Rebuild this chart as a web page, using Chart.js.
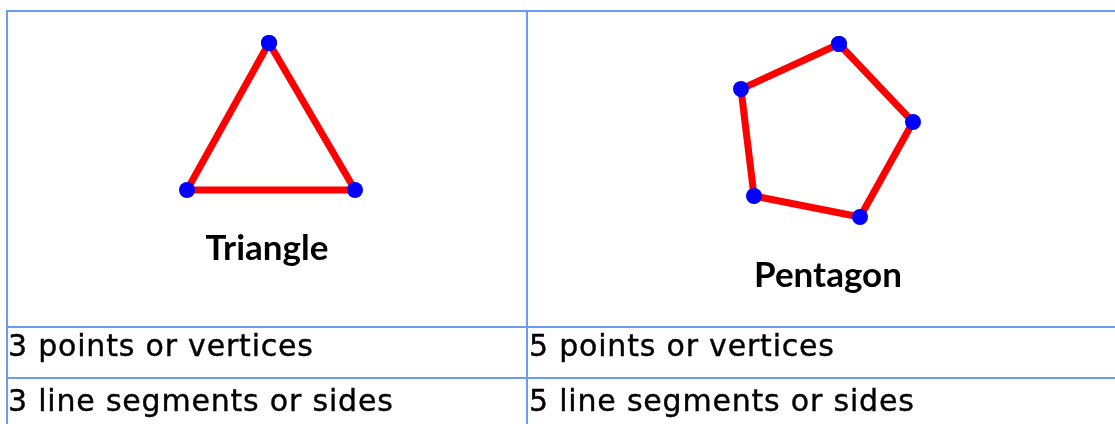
<!DOCTYPE html>
<html>
<head>
<meta charset="utf-8">
<script src="https://cdn.jsdelivr.net/npm/chart.js@4"></script>
<style>
    html, body { margin: 0; padding: 0; background: #fff; overflow: hidden; }
    #wrap { position: relative; width: 1115px; height: 424px; overflow: hidden; color: #000; }
    #shapes { position: absolute; left: 0; top: 0; }
    .hl { position: absolute; left: 6px; width: 1115px; height: 2px; background: #6d9bf1; }
    .vl { position: absolute; top: 10px; width: 2px; height: 420px; background: #6d9bf1; }
    .label { position: absolute; font-family: Lato, "Noto Sans", sans-serif; font-weight: bold; font-size: 35px; line-height: 1; transform: translateX(-50%); white-space: nowrap; }
    .cell { position: absolute; font-family: "DejaVu Sans", sans-serif; font-size: 30px; letter-spacing: 0.8px; line-height: 1; white-space: nowrap; -webkit-text-stroke: 0.4px #000; }
</style>
</head>
<body>
<div id="wrap">
    <div class="hl" style="top:10px"></div>
    <div class="hl" style="top:326px"></div>
    <div class="hl" style="top:377px"></div>
    <div class="vl" style="left:6px"></div>
    <div class="vl" style="left:526px"></div>

    <canvas id="shapes" width="1115" height="424"></canvas>

    <div class="label" id="lblTri" style="left:267px; top:229px"></div>
    <div class="label" id="lblPent" style="left:828px; top:256px"></div>

    <div class="cell" id="r1c1" style="left:8px; top:331px"></div>
    <div class="cell" id="r1c2" style="left:529px; top:331px"></div>
    <div class="cell" id="r2c1" style="left:8px; top:386px"></div>
    <div class="cell" id="r2c2" style="left:529px; top:386px"></div>
</div>
<script>
const shapeNames = ['Triangle', 'Pentagon'];
const pointsText = ['3 points or vertices', '5 points or vertices'];
const sidesText = ['3 line segments or sides', '5 line segments or sides'];

// vertices (x right, y down)
const triangleX = [269, 187, 355];
const triangleY = [43, 190, 190];
const pentagonX = [839, 913, 860, 754, 741];
const pentagonY = [44, 122, 217, 196, 89];

function closedPath(xs, ys) {
    const pts = xs.map((x, i) => ({ x: x, y: ys[i] }));
    pts.push(pts[0]);
    return pts;
}

function initShapes() {
    document.getElementById('lblTri').textContent = shapeNames[0];
    document.getElementById('lblPent').textContent = shapeNames[1];
    document.getElementById('r1c1').textContent = pointsText[0];
    document.getElementById('r1c2').textContent = pointsText[1];
    document.getElementById('r2c1').textContent = sidesText[0];
    document.getElementById('r2c2').textContent = sidesText[1];

    const ctx = document.getElementById('shapes').getContext('2d');
    const shapeStyle = {
        showLine: true,
        borderColor: '#ff0000',
        borderWidth: 7,
        pointRadius: 8,
        pointBorderWidth: 0,
        pointBackgroundColor: '#0000ff',
        tension: 0,
        clip: false
    };

    new Chart(ctx, {
        type: 'scatter',
        data: {
            datasets: [
                { label: shapeNames[0], data: closedPath(triangleX, triangleY), ...shapeStyle },
                { label: shapeNames[1], data: closedPath(pentagonX, pentagonY), ...shapeStyle }
            ]
        },
        options: {
            responsive: false,
            animation: false,
            events: [],
            layout: { padding: 0, autoPadding: false },
            plugins: { legend: { display: false }, tooltip: { enabled: false } },
            scales: {
                x: { type: 'linear', min: 0, max: 1115, display: false },
                y: { type: 'linear', min: 0, max: 424, reverse: true, display: false }
            }
        }
    });
}

document.addEventListener('DOMContentLoaded', initShapes);
</script>
</body>
</html>
